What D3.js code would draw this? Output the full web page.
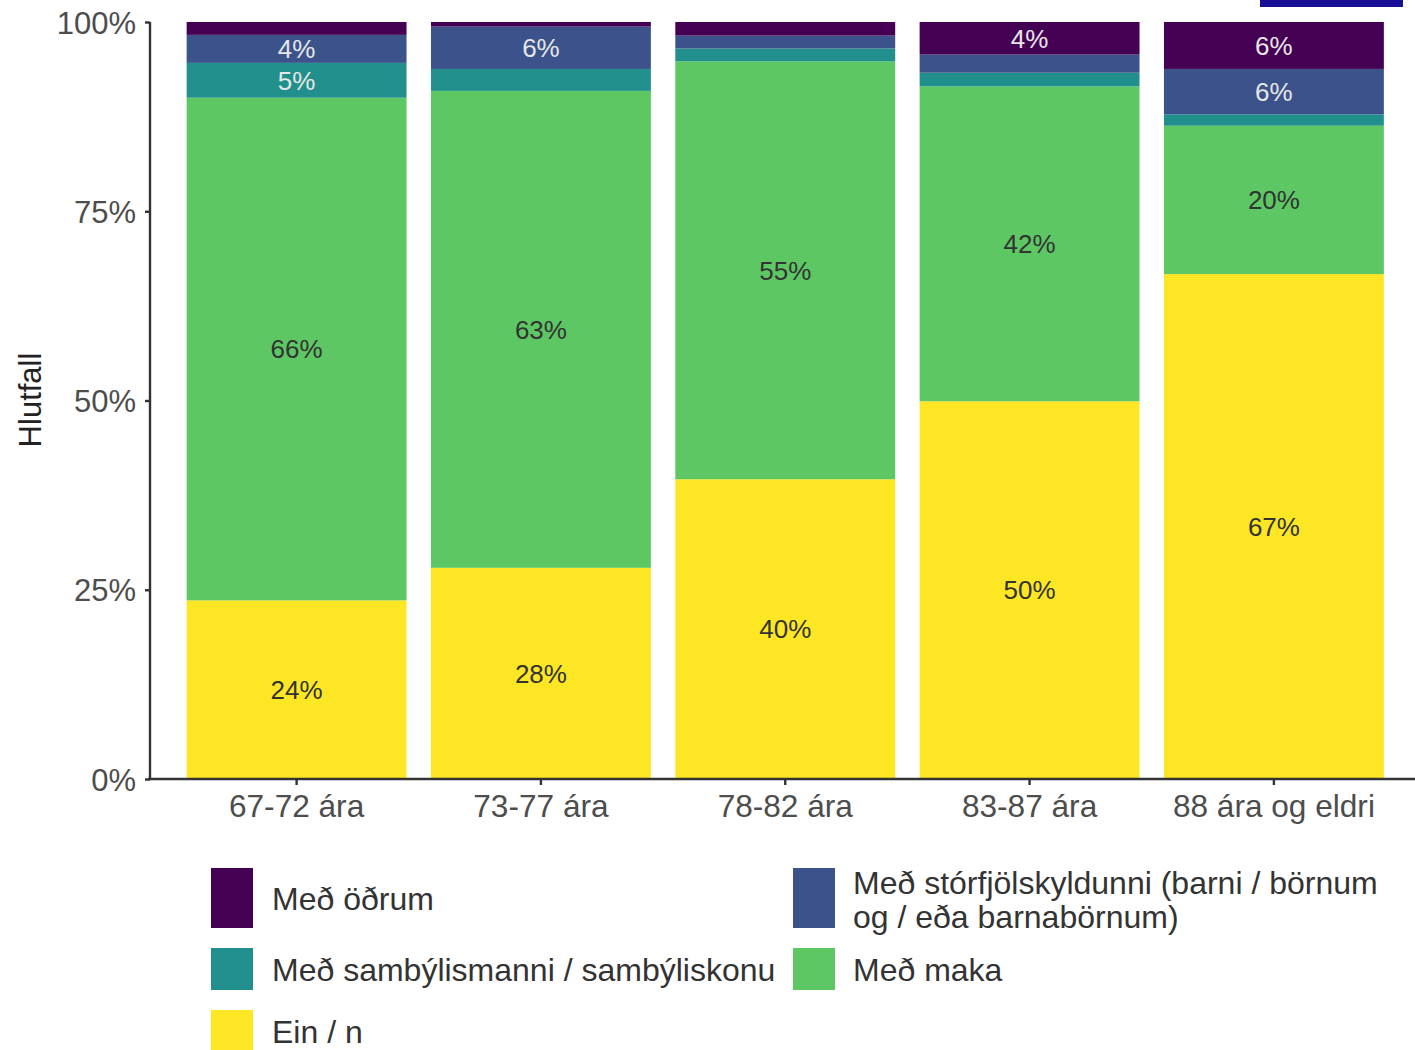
<!DOCTYPE html>
<html>
<head>
<meta charset="utf-8">
<script src="https://cdn.jsdelivr.net/npm/d3@7"></script>
<style>
  html, body { margin: 0; padding: 0; background: #fff; }
  svg { display: block; font-family: "Liberation Sans", Arial, sans-serif; }
</style>
</head>
<body>
<svg id="chart" width="1415" height="1050"></svg>
<script>
// ---- data ----
const categories = ["67-72 ára", "73-77 ára", "78-82 ára", "83-87 ára", "88 ára og eldri"];
const seriesNames = ["Ein / n", "Með maka", "Með sambýlismanni / sambýliskonu",
  "Með stórfjölskyldunni (barni / börnum og / eða barnabörnum)", "Með öðrum"];
const einN        = [23.6, 27.9, 39.6, 49.9, 66.7];
const medMaka     = [66.4, 63.0, 55.2, 41.6, 19.6];
const sambylis    = [4.6, 2.9, 1.7, 1.8, 1.5];
const storfjolsk  = [3.7, 5.6, 1.7, 2.4, 6.0];
const odrum       = [1.7, 0.6, 1.8, 4.3, 6.2];
const yTicks = [0, 25, 50, 75, 100];
const colors = ["#FDE725", "#5DC863", "#21908C", "#3B528B", "#440154"];
const labelColors = ["#333333", "#333333", "#e6e6e6", "#e6e6e6", "#e6e6e6"];

const seriesValues = [einN, medMaka, sambylis, storfjolsk, odrum];
const table = categories.map((c, i) => {
  const row = { cat: c };
  seriesNames.forEach((s, j) => row[s] = seriesValues[j][i]);
  return row;
});

const svg = d3.select("#chart");

// top-right decorative fragment
svg.append("rect").attr("x", 1260).attr("y", 0).attr("width", 143).attr("height", 7).attr("fill", "#180f96");

const x = d3.scaleBand().domain(categories).range([150, 1420.5]).paddingInner(0.1).paddingOuter(0.15);
const y = d3.scaleLinear().domain([0, 100]).range([779, 22]);

const stack = d3.stack().keys(seriesNames)(table);

const g = svg.append("g");
stack.forEach((layer, li) => {
  g.selectAll(null).data(layer).enter().append("rect")
    .attr("x", d => x(d.data.cat))
    .attr("width", x.bandwidth())
    .attr("y", d => y(d[1]))
    .attr("height", d => y(d[0]) - y(d[1]))
    .attr("fill", colors[li]);
});
stack.forEach((layer, li) => {
  g.selectAll(null).data(layer.filter(d => d[1] - d[0] >= 3.5)).enter().append("text")
    .attr("x", d => x(d.data.cat) + x.bandwidth() / 2)
    .attr("y", d => y((d[0] + d[1]) / 2))
    .attr("dy", "0.36em")
    .attr("text-anchor", "middle")
    .attr("font-size", 26)
    .attr("fill", labelColors[li])
    .text(d => Math.round(d[1] - d[0]) + "%");
});

// axes
const axisColor = "#333333";
const yAxis = svg.append("g").attr("transform", "translate(150,0)")
  .call(d3.axisLeft(y).tickValues(yTicks).tickFormat(d => d + "%").tickSize(5).tickPadding(9));
yAxis.select(".domain").attr("stroke", axisColor).attr("stroke-width", 2.4).attr("d", "M0,22V779");
yAxis.selectAll(".tick line").attr("stroke", axisColor).attr("stroke-width", 2.4);
yAxis.selectAll(".tick text").attr("font-size", 31).attr("fill", "#4d4d4d")
  .attr("font-family", "Liberation Sans, Arial, sans-serif").attr("dy", "0.36em");

const xAxis = svg.append("g").attr("transform", "translate(0,779)")
  .call(d3.axisBottom(x).tickSize(6).tickPadding(8));
xAxis.select(".domain").attr("stroke", axisColor).attr("stroke-width", 2.4).attr("d", "M148,0H1415");
xAxis.selectAll(".tick line").attr("stroke", axisColor).attr("stroke-width", 2.4);
xAxis.selectAll(".tick text").attr("font-size", 31.6).attr("fill", "#4d4d4d")
  .attr("font-family", "Liberation Sans, Arial, sans-serif").attr("dy", "0.76em");

// y title
svg.append("text")
  .attr("transform", "translate(41,400) rotate(-90)")
  .attr("text-anchor", "middle")
  .attr("font-size", 31)
  .attr("fill", "#222")
  .text("Hlutfall");

// legend (byrow, 2 columns)
const legendItems = [
  { idx: 4, col: 0, keyY: 868, keyH: 60, lines: ["Með öðrum"], textY: [898] },
  { idx: 3, col: 1, keyY: 868, keyH: 60, lines: ["Með stórfjölskyldunni (barni / börnum", "og / eða barnabörnum)"], textY: [882, 916] },
  { idx: 2, col: 0, keyY: 948, keyH: 42, lines: ["Með sambýlismanni / sambýliskonu"], textY: [969] },
  { idx: 1, col: 1, keyY: 948, keyH: 42, lines: ["Með maka"], textY: [969] },
  { idx: 0, col: 0, keyY: 1010, keyH: 42, lines: ["Ein / n"], textY: [1031] }
];
const colKeyX = [211, 793];
const colTextX = [272, 853];
const leg = svg.append("g");
legendItems.forEach(it => {
  leg.append("rect").attr("x", colKeyX[it.col]).attr("y", it.keyY)
    .attr("width", 42).attr("height", it.keyH).attr("fill", colors[it.idx]);
  it.lines.forEach((ln, k) => {
    leg.append("text").attr("x", colTextX[it.col]).attr("y", it.textY[k])
      .attr("dy", "0.36em").attr("font-size", 32).attr("fill", "#333")
      .text(ln);
  });
});
</script>
</body>
</html>
